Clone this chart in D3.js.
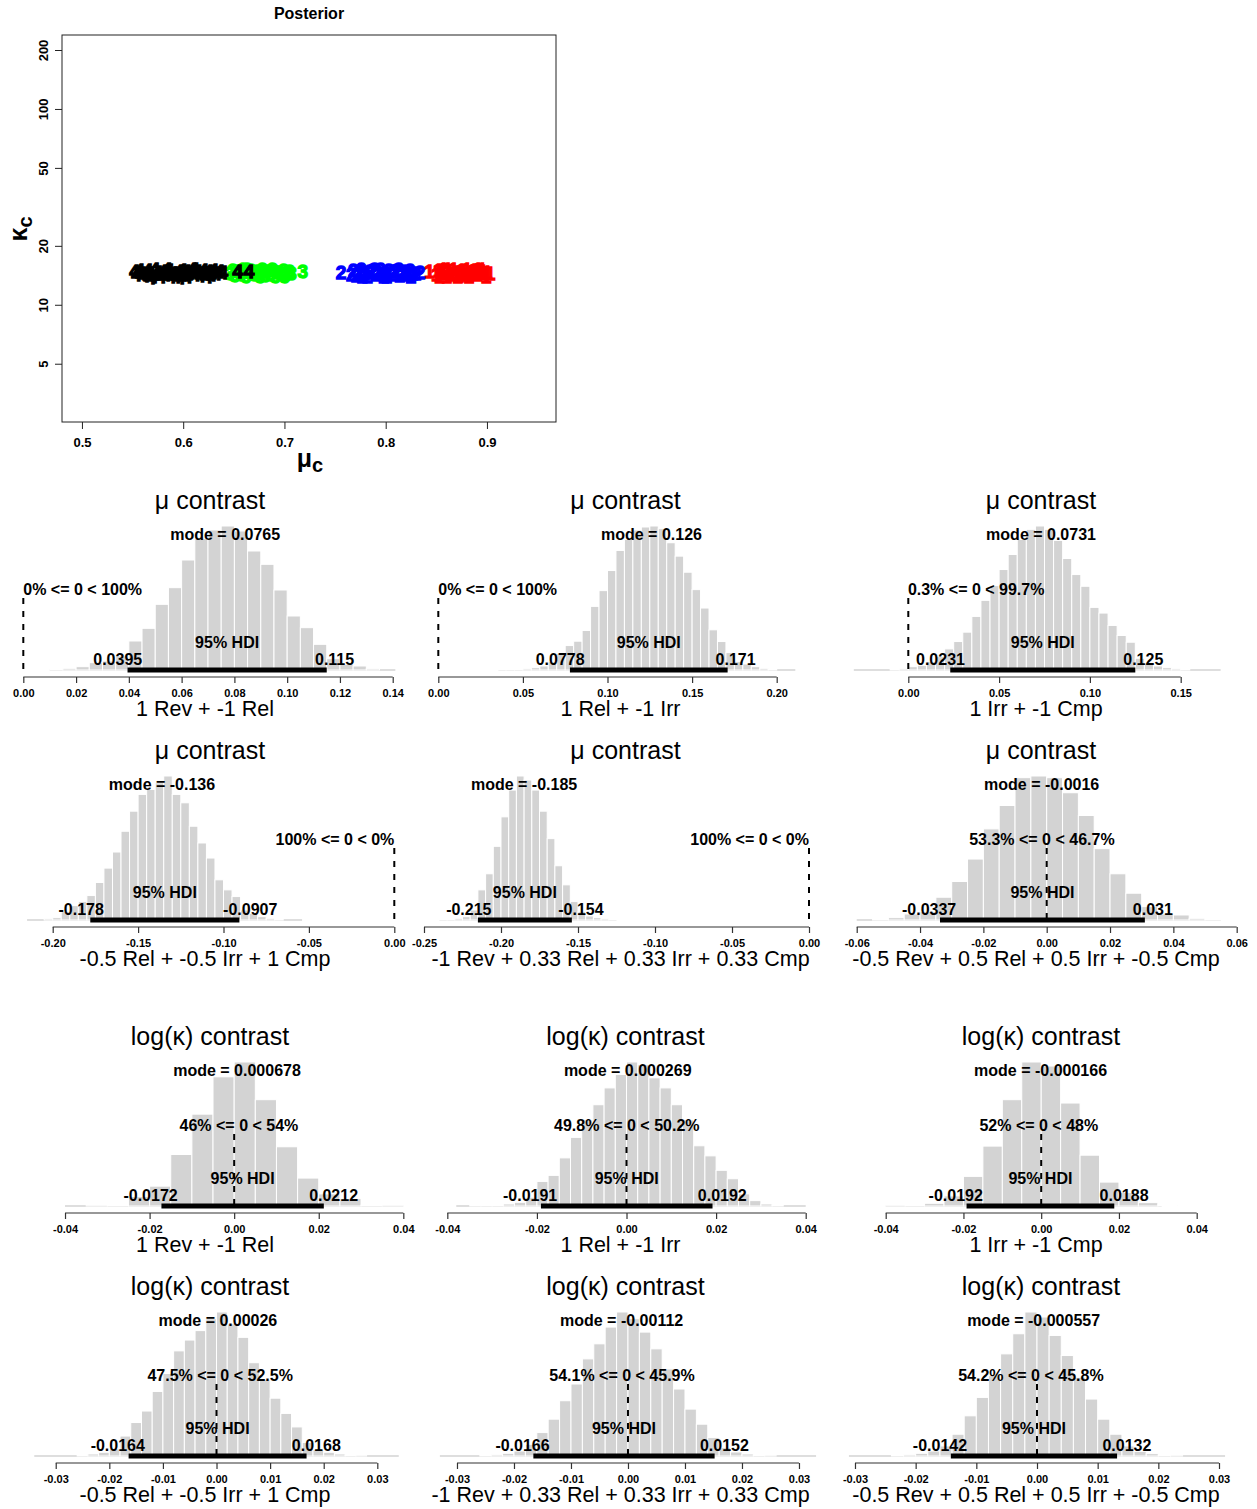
<!DOCTYPE html>
<html><head><meta charset="utf-8">
<script src="https://cdn.jsdelivr.net/npm/d3@7"></script>
<style>
body{margin:0;background:#fff}
text{font-family:"Liberation Sans",Arial,Helvetica,sans-serif}
</style>
</head><body>
<svg id="c" width="1257" height="1509" style="background:#fff"></svg>
<script>
// ---------------- DATA ----------------
// Top scatter plot (posterior of mu_c vs kappa_c)
const muTicks = [0.5, 0.6, 0.7, 0.8, 0.9];
const kappaTicks = [5, 10, 20, 50, 100, 200];
const muLim = [0.4803, 0.9682];
const kappaLim = [2.52, 238.6];
const groupLabels = ["1", "2", "3", "4"];
const groupColors = ["#ff0000", "#0000ff", "#00ff00", "#000000"];

const g1Mu = [0.843,0.850,0.852,0.855,0.857,0.860,0.862,0.865,0.867,0.870,0.872,0.875,0.877,0.880,0.882,0.885,0.887,0.890,0.892,0.895,0.897,0.900,0.903,0.856,0.866,0.876,0.886,0.896,0.853,0.861,0.871,0.881,0.891,0.899];
const g1Kappa = [14.8,14.3,15.1,14.6,15.3,14.1,14.9,14.4,15.2,14.7,14.2,15.0,14.5,15.3,14.1,14.8,15.1,14.3,14.9,15.2,14.5,14.7,14.6,14.7,14.6,14.8,14.6,14.8,14.0,15.3,14.0,14.4,15.3,14.1];
const g2Mu = [0.756,0.766,0.768,0.771,0.774,0.776,0.779,0.782,0.784,0.787,0.790,0.792,0.795,0.798,0.800,0.803,0.806,0.808,0.811,0.814,0.816,0.819,0.822,0.824,0.827,0.830,0.834,0.773,0.785,0.797,0.809,0.821,0.777,0.789,0.801,0.813,0.825];
const g2Kappa = [14.7,14.4,15.0,14.2,14.8,15.2,14.5,14.1,14.9,15.1,14.3,14.7,15.2,14.0,14.6,15.0,14.3,14.8,15.1,14.2,14.6,14.9,14.4,15.0,14.5,14.6,14.7,14.6,14.7,14.5,14.8,14.6,14.0,15.3,14.1,15.3,14.0];
const g3Mu = [0.646,0.649,0.651,0.654,0.657,0.659,0.662,0.665,0.667,0.670,0.673,0.675,0.678,0.681,0.683,0.686,0.689,0.691,0.694,0.697,0.699,0.702,0.705,0.707,0.656,0.668,0.680,0.692,0.718,0.663,0.676,0.688,0.700];
const g3Kappa = [14.6,15.1,14.2,14.9,14.4,15.2,14.1,14.7,15.0,14.3,14.9,14.5,15.2,14.2,14.8,14.4,15.0,14.1,14.7,14.5,15.0,14.3,14.8,14.6,14.7,14.6,14.8,14.7,14.8,15.3,14.0,15.3,14.1];
const g4Mu = [0.552,0.554,0.557,0.559,0.562,0.565,0.567,0.570,0.572,0.575,0.578,0.580,0.583,0.586,0.588,0.591,0.593,0.596,0.599,0.601,0.604,0.607,0.609,0.612,0.614,0.617,0.620,0.622,0.625,0.628,0.630,0.633,0.636,0.639,0.560,0.574,0.590,0.603,0.616,0.629,0.568,0.584,0.597,0.611,0.624,0.654,0.665];
const g4Kappa = [14.8,14.3,15.1,14.6,14.2,15.0,14.5,14.1,15.2,14.7,14.0,14.9,14.4,15.1,14.1,14.6,14.0,14.8,15.0,14.3,14.0,14.7,15.2,14.4,14.9,14.2,15.0,14.5,14.8,14.3,15.1,14.6,14.9,14.7,14.4,14.6,14.5,14.9,14.6,14.7,13.9,15.3,13.9,15.3,14.0,14.8,14.8];

// Contrast panels (12)
const panelTitles = ["μ contrast","μ contrast","μ contrast","μ contrast","μ contrast","μ contrast",
  "log(κ) contrast","log(κ) contrast","log(κ) contrast","log(κ) contrast","log(κ) contrast","log(κ) contrast"];
const panelXLabels = ["1 Rev + -1 Rel","1 Rel + -1 Irr","1 Irr + -1 Cmp",
  "-0.5 Rel + -0.5 Irr + 1 Cmp","-1 Rev + 0.33 Rel + 0.33 Irr + 0.33 Cmp","-0.5 Rev + 0.5 Rel + 0.5 Irr + -0.5 Cmp",
  "1 Rev + -1 Rel","1 Rel + -1 Irr","1 Irr + -1 Cmp",
  "-0.5 Rel + -0.5 Irr + 1 Cmp","-1 Rev + 0.33 Rel + 0.33 Irr + 0.33 Cmp","-0.5 Rev + 0.5 Rel + 0.5 Irr + -0.5 Cmp"];
const panelModes = [0.0765, 0.126, 0.0731, -0.136, -0.185, -0.0016, 0.000678, 0.000269, -0.000166, 0.00026, -0.00112, -0.000557];
const panelHdiLow = [0.0395, 0.0778, 0.0231, -0.178, -0.215, -0.0337, -0.0172, -0.0191, -0.0192, -0.0164, -0.0166, -0.0142];
const panelHdiHigh = [0.115, 0.171, 0.125, -0.0907, -0.154, 0.031, 0.0212, 0.0192, 0.0188, 0.0168, 0.0152, 0.0132];
const panelPctBelow = [0, 0, 0.3, 100, 100, 53.3, 46, 49.8, 52, 47.5, 54.1, 54.2];
const compValue = 0;
const credMass = 95;
const panelXlim = [
  [-0.00618, 0.14769], [-0.00934, 0.23062], [-0.03871, 0.18486],
  [-0.22676, 0.01095], [-0.25097, 0.01266], [-0.06591, 0.06231],
  [-0.05372, 0.04229], [-0.04554, 0.04509], [-0.05227, 0.05217],
  [-0.03909, 0.03666], [-0.03605, 0.03518], [-0.03280, 0.03412]];
const panelTicks = [
  [0, 0.02, 0.04, 0.06, 0.08, 0.10, 0.12, 0.14],
  [0, 0.05, 0.10, 0.15, 0.20],
  [0, 0.05, 0.10, 0.15],
  [-0.20, -0.15, -0.10, -0.05, 0],
  [-0.25, -0.20, -0.15, -0.10, -0.05, 0],
  [-0.06, -0.04, -0.02, 0, 0.02, 0.04, 0.06],
  [-0.04, -0.02, 0, 0.02, 0.04],
  [-0.04, -0.02, 0, 0.02, 0.04],
  [-0.04, -0.02, 0, 0.02, 0.04],
  [-0.03, -0.02, -0.01, 0, 0.01, 0.02, 0.03],
  [-0.03, -0.02, -0.01, 0, 0.01, 0.02, 0.03],
  [-0.03, -0.02, -0.01, 0, 0.01, 0.02, 0.03]];
const sampleRange = [
  [0.010, 0.141], [0.0355, 0.211], [-0.030, 0.172],
  [-0.215, -0.054], [-0.240, -0.125], [-0.060, 0.055],
  [-0.040, 0.040], [-0.038, 0.040], [-0.040, 0.031],
  [-0.034, 0.034], [-0.033, 0.033], [-0.031, 0.031]];
const histStart = [0.010, 0.035, -0.010, -0.205, -0.240, -0.055, -0.035, -0.035, -0.040, -0.026, -0.026, -0.024];
const histWidth = [0.005, 0.005, 0.005, 0.005, 0.005, 0.005, 0.005, 0.0025, 0.005, 0.002, 0.002, 0.002];
const histHeights = [
  [2,5,10,22,27,42,87,125,197,247,330,395,420,432,417,357,317,240,162,127,77,34,17,12,4],
  [2,2,3,4,7,12,25,50,73,86,118,190,237,297,357,390,418,427,430,422,380,340,292,240,185,120,85,52,25,18,10,5,2],
  [2,4,10,14,25,40,63,85,113,160,208,252,300,345,390,420,430,420,387,333,285,250,187,170,133,103,83,35,20,12,7,4,2],
  [4,7,25,43,55,73,112,155,203,265,325,375,390,410,430,375,350,280,230,185,120,90,70,30,20,10,5,2],
  [2,3,5,10,30,90,138,220,308,388,430,418,388,325,243,162,105,55,25,12,7,4,2],
  [2,7,18,25,68,115,182,272,342,425,430,425,380,312,213,138,80,40,18,15,5,2],
  [1,3,28,59,153,273,384,428,316,176,83,36,22,3,1],
  [2,2,3,6,11,26,73,91,143,204,256,301,351,391,428,420,381,351,301,256,179,149,106,81,36,16,6,3],
  [1,3,8,30,88,178,316,428,416,306,151,71,40,10,3],
  [3,6,11,21,59,99,133,191,244,311,343,371,406,426,391,351,276,226,171,126,86,40,18,11,6,3,1],
  [2,4,8,15,35,70,110,165,215,290,335,385,430,410,370,320,260,200,140,95,55,25,12,6,3,1],
  [2,4,8,15,30,65,120,175,240,305,365,430,415,360,300,235,170,110,65,30,14,7,3,1]];

// ---------------- LAYOUT ----------------
const rowBase = [670, 920, 1206, 1456];
const colRange = [[7, 413], [422.5, 828.5], [838, 1244]];
const barMaxPx = 144;
const svg = d3.select("#c");

// ---------------- TOP SCATTER ----------------
(function () {
  const x = d3.scaleLinear().domain(muLim).range([62, 556]);
  const y = d3.scaleLog().domain(kappaLim).range([422, 35]);
  const g = svg.append("g");
  const groups = [[g1Mu, g1Kappa], [g2Mu, g2Kappa], [g3Mu, g3Kappa], [g4Mu, g4Kappa]];
  groups.forEach(([mu, ka], gi) => {
    g.append("g").selectAll("text").data(mu.map((m, k) => [m, ka[k]])).join("text")
      .attr("x", d => x(d[0])).attr("y", d => y(d[1]) + 7)
      .attr("text-anchor", "middle").attr("font-size", 19).attr("font-weight", "bold")
      .attr("fill", groupColors[gi]).attr("stroke", groupColors[gi]).attr("stroke-width", 1.3)
      .text(groupLabels[gi]);
  });
  g.append("rect").attr("x", x.range()[0]).attr("y", y.range()[1])
    .attr("width", x.range()[1] - x.range()[0]).attr("height", y.range()[0] - y.range()[1])
    .attr("fill", "none").attr("stroke", "#222").attr("stroke-width", 1);
  const xa = g.append("g").attr("transform", `translate(0,${y.range()[0]})`)
    .call(d3.axisBottom(x).tickValues(muTicks).tickSize(7).tickPadding(9).tickFormat(d => d.toFixed(1)));
  xa.select(".domain").remove();
  xa.selectAll("text").attr("font-size", 13).attr("font-weight", "bold").attr("font-family", null).attr("fill", "#000");
  xa.selectAll("line").attr("stroke", "#222");
  const ya = g.append("g").attr("transform", `translate(${x.range()[0]},0)`)
    .call(d3.axisLeft(y).tickValues(kappaTicks).tickSize(7).tickFormat(d => String(d)));
  ya.select(".domain").remove();
  ya.selectAll("line").attr("stroke", "#222");
  ya.selectAll("text").attr("font-size", 13).attr("font-weight", "bold").attr("font-family", null).attr("fill", "#000")
    .attr("x", 0).attr("dy", 0).attr("text-anchor", "middle").attr("transform", "translate(-14,0) rotate(-90)");
  g.append("text").attr("x", 309).attr("y", 19).attr("text-anchor", "middle")
    .attr("font-size", 16).attr("font-weight", "bold").text("Posterior");
  const xl = g.append("text").attr("x", 310).attr("y", 467).attr("text-anchor", "middle")
    .attr("font-size", 25).attr("font-weight", "bold");
  xl.append("tspan").text("μ");
  xl.append("tspan").attr("font-size", 20).attr("dy", 5).text("c");
  const yl = g.append("text").attr("transform", "translate(27,229) rotate(-90)").attr("text-anchor", "middle")
    .attr("font-size", 25).attr("font-weight", "bold");
  yl.append("tspan").text("κ");
  yl.append("tspan").attr("font-size", 20).attr("dy", 5).text("c");
})();

// ---------------- CONTRAST PANELS ----------------
function fmt(v) { return String(+v.toFixed(1)); }
function drawPanel(i) {
  const row = Math.floor(i / 3), col = i % 3;
  const base = rowBase[row];
  const [L, R] = colRange[col];
  const cx = (L + R) / 2;
  const x = d3.scaleLinear().domain(panelXlim[i]).range([L, R]);
  const hs = histHeights[i];
  const maxH = d3.max(hs);
  const y = d3.scaleLinear().domain([0, maxH]).range([base, base - barMaxPx]);
  const g = svg.append("g");
  const bw = histWidth[i];
  const bins = hs.map((v, k) => ({ x0: histStart[i] + k * bw, v }));

  g.append("line").attr("x1", x(sampleRange[i][0])).attr("x2", x(sampleRange[i][1]))
    .attr("y1", y(0)).attr("y2", y(0)).attr("stroke", "#d3d3d3").attr("stroke-width", 1.5);
  g.append("g").selectAll("rect").data(bins).join("rect")
    .attr("x", d => x(d.x0)).attr("width", d => x(d.x0 + bw) - x(d.x0))
    .attr("y", d => y(d.v)).attr("height", d => y(0) - y(d.v))
    .attr("fill", "#d3d3d3").attr("stroke", "#fff").attr("stroke-width", 1);

  // HDI bar
  g.append("line").attr("x1", x(panelHdiLow[i])).attr("x2", x(panelHdiHigh[i]))
    .attr("y1", y(0)).attr("y2", y(0)).attr("stroke", "#000").attr("stroke-width", 5);

  const txt = (s, xx, yy, size, weight, adj) => {
    const el = g.append("text").attr("x", xx).attr("y", yy).attr("font-size", size)
      .attr("font-weight", weight).text(s);
    const w = el.node().getComputedTextLength();
    el.attr("x", xx - adj * w);
    return el;
  };
  txt(`mode = ${panelModes[i]}`, x(panelModes[i]), y(0.9 * maxH), 16, "bold", 0.5);
  const pb = panelPctBelow[i];
  txt(`${fmt(pb)}% <= ${compValue} < ${fmt(100 - pb)}%`, x(compValue), y(0.52 * maxH), 16, "bold", pb / 100);
  txt(`${credMass}% HDI`, x((panelHdiLow[i] + panelHdiHigh[i]) / 2), y(0) - 22, 16, "bold", 0.5);
  txt(String(panelHdiLow[i]), x(panelHdiLow[i]), y(0) - 5, 16, "bold", 0.7);
  txt(String(panelHdiHigh[i]), x(panelHdiHigh[i]), y(0) - 5, 16, "bold", 0.3);

  g.append("line").attr("x1", x(compValue)).attr("x2", x(compValue))
    .attr("y1", y(0.5 * maxH)).attr("y2", y(0))
    .attr("stroke", "#000").attr("stroke-width", 2).attr("stroke-dasharray", "6,7");

  const ticks = panelTicks[i];
  const ax = g.append("g").attr("transform", `translate(0,${base + 7})`)
    .call(d3.axisBottom(x).tickValues(ticks).tickSize(6).tickPadding(6).tickFormat(d => d.toFixed(2)));
  ax.select(".domain").remove();
  ax.append("line").attr("x1", x(ticks[0])).attr("x2", x(ticks[ticks.length - 1]))
    .attr("stroke", "#333").attr("stroke-width", 1.2);
  ax.selectAll(".tick line").attr("stroke", "#333").attr("stroke-width", 1.2);
  ax.selectAll("text").attr("font-size", 11).attr("font-weight", "bold").attr("font-family", null).attr("fill", "#000");

  g.append("text").attr("x", cx).attr("y", base - 161).attr("text-anchor", "middle")
    .attr("font-size", 25).text(panelTitles[i]);
  g.append("text").attr("x", cx - 5).attr("y", base + 46).attr("text-anchor", "middle")
    .attr("font-size", 21.5).text(panelXLabels[i]);
}
for (let i = 0; i < 12; i++) drawPanel(i);
</script>
</body></html>
